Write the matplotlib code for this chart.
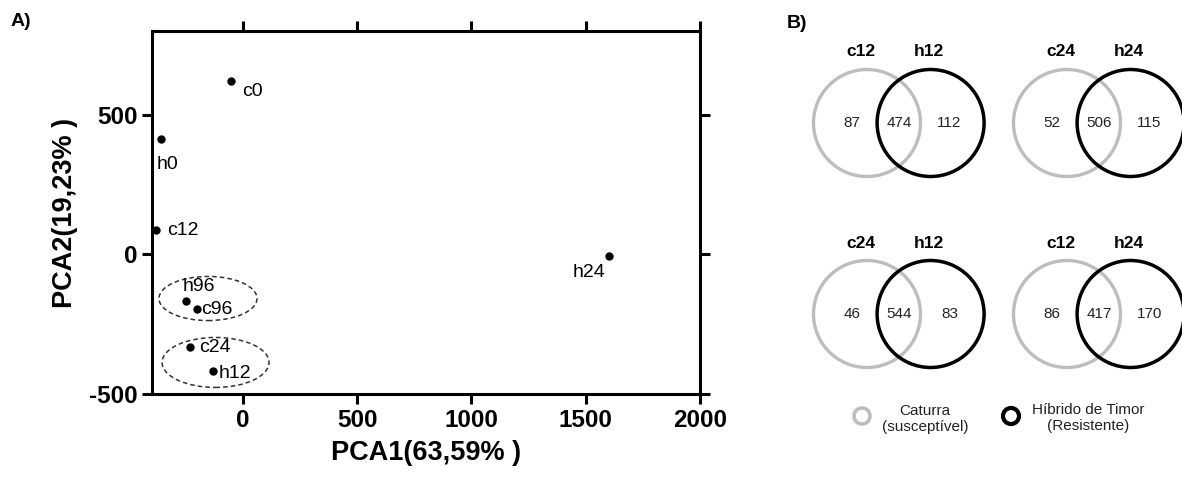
import matplotlib
matplotlib.use("Agg")
import matplotlib.pyplot as plt
from matplotlib.patches import Circle, Ellipse

plt.rcParams['font.family'] = ['Liberation Sans', 'DejaVu Sans']

# PCA scores (panel A)
samples = ['c0', 'h0', 'c12', 'h96', 'c96', 'c24', 'h12', 'h24']
pca1 = [-53, -359, -380, -251, -200, -232, -130, 1601]
pca2 = [622, 412, 87, -167, -195, -332, -418, -4]
xticks = [0, 500, 1000, 1500, 2000]
yticks = [-500, 0, 500]

# groups circled with dashed ellipses: centre x, centre y, width, height (data units)
groups = [(-153, -158, 429, 158), (-120, -387, 468, 179)]

# Venn counts (panel B)
venn_left = ['c12', 'c24', 'c24', 'c12']
venn_right = ['h12', 'h24', 'h12', 'h24']
only_left = [87, 52, 46, 86]
shared = [474, 506, 544, 417]
only_right = [112, 115, 83, 170]

GRAY = '#bdbdbd'

fig = plt.figure(figsize=(11.82, 4.8), dpi=100)


# label offsets in pixels (right, down) from each point
def px(v):
    return v * 0.72


label_off = {'c0': (22, 11), 'h0': (7, 25), 'c12': (27, 0), 'h96': (13, -15),
             'c96': (20, 1), 'c24': (25, 0), 'h12': (22, 2), 'h24': (-20, 17)}

ax = fig.add_axes([152 / 1182, 1 - 394 / 480, 548 / 1182, 363 / 480])
ax.plot(pca1, pca2, 'o', color='black', ms=5)
for s, x, y in zip(samples, pca1, pca2):
    dx, dy = label_off[s]
    ax.annotate(s, (x, y), xytext=(px(dx), -px(dy)), textcoords='offset points',
                ha='center', va='center', fontsize=14)
for cx, cy, w, h in groups:
    ax.add_patch(Ellipse((cx, cy), w, h, fill=False, ec='#333333', lw=1.1,
                         ls=(0, (3, 2))))
ax.set_xlim(-398, 2000)
ax.set_ylim(-500, 800)
ax.set_xticks(xticks, [str(v) for v in xticks], fontweight='bold')
ax.set_yticks(yticks, [str(v) for v in yticks], fontweight='bold')
ax.tick_params(direction='out', length=7.5, width=2.2, top=True, right=True,
               labelsize=17.5, pad=3)
for sp in ax.spines.values():
    sp.set_linewidth(2.2)
ax.set_xlabel('PCA1(63,59% )', fontsize=19.5, fontweight='bold', labelpad=6)
ax.set_ylabel('PCA2(19,23% )', fontsize=19.5, fontweight='bold', labelpad=8)
fig.text(21 / 1182, 1 - 22 / 480, 'A)', fontsize=14, fontweight='bold',
         ha='center', va='center')

# panel B in pixel-like coordinates
bx = fig.add_axes([760 / 1182, 0, 422 / 1182, 1])
bx.set_xlim(760, 1182)
bx.set_ylim(480, 0)
bx.axis('off')
bx.text(797, 23, 'B)', fontsize=14, fontweight='bold', ha='center', va='center')

pair_x = [867, 1067, 867, 1067]
pair_y = [123, 123, 314, 314]
r = 53.5
gap = 63.6
for i in range(4):
    gx, cy = pair_x[i], pair_y[i]
    hx = gx + gap
    bx.add_patch(Circle((gx, cy), r, fill=False, ec=GRAY, lw=2.4))
    bx.add_patch(Circle((hx, cy), r, fill=False, ec='black', lw=2.5))
    bx.text(gx - 6, cy - 71, venn_left[i], fontsize=12.5, fontweight='bold',
            ha='center', va='center')
    bx.text(hx - 1.5, cy - 71, venn_right[i], fontsize=12.5, fontweight='bold',
            ha='center', va='center')
    bx.text(gx - 15, cy, str(only_left[i]), fontsize=11, ha='center',
            va='center', color='#222222')
    bx.text(gx + 32.5, cy, str(shared[i]), fontsize=11, ha='center',
            va='center', color='#222222')
    bx.text(gx + 82.5, cy, str(only_right[i]), fontsize=11, ha='center',
            va='center', color='#222222')

# legend
bx.add_patch(Circle((862, 416), 8, fill=False, ec=GRAY, lw=2.6))
bx.add_patch(Circle((1011, 416), 8, fill=False, ec='black', lw=3.0))
bx.text(925, 419, 'Caturra\n(susceptível)', fontsize=11, ha='center',
        va='center', linespacing=1.15, color='#222222')
bx.text(1088, 418, 'Híbrido de Timor\n(Resistente)', fontsize=11, ha='center',
        va='center', linespacing=1.15, color='#222222')

fig.savefig('out.png', dpi=100)
